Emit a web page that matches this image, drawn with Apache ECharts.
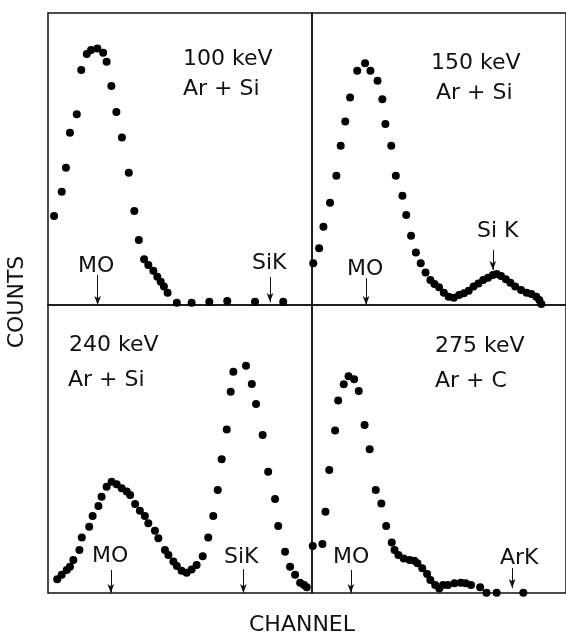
<!DOCTYPE html>
<html>
<head>
<meta charset="utf-8">
<script src="https://cdn.jsdelivr.net/npm/echarts@6/dist/echarts.min.js"></script>
<style>
html,body{margin:0;padding:0;background:#fff;}
#chart{width:566px;height:635px;}
</style>
</head>
<body>
<div id="chart"></div>
<script>
// ---- data: [channel (0-100 of panel width), counts (0-100 of panel height)] ----
const panel100 = [[2.3,30.5],[5.2,38.8],[6.8,47.0],[8.3,59.0],[10.9,65.3],[12.6,80.5],[14.7,86.0],[16.3,87.3],[18.7,87.8],[20.9,86.4],[22.2,83.3],[24.0,75.0],[25.9,66.1],[28.0,57.4],[30.6,45.3],[32.7,32.2],[34.4,22.3],[36.4,15.7],[38.0,13.7],[39.9,11.7],[41.4,9.7],[42.7,8.0],[43.9,6.3],[45.3,4.2],[48.8,0.8],[54.4,0.8],[61.1,1.1],[67.9,1.4],[78.4,1.1],[89.1,1.1]];
const panel150 = [[0.5,14.3],[2.8,19.4],[4.5,26.8],[7.1,35.0],[9.6,44.3],[11.3,54.5],[13.1,62.8],[15.0,71.1],[17.8,80.2],[20.9,82.8],[23.0,80.2],[25.8,76.8],[27.7,70.5],[28.9,62.0],[31.2,54.5],[33.0,44.3],[35.6,37.4],[37.1,30.8],[39.0,23.7],[40.9,18.0],[42.8,14.3],[44.7,11.1],[46.6,8.6],[48.2,7.2],[50.0,6.1],[51.9,4.2],[53.8,2.8],[55.8,2.5],[57.9,3.4],[59.8,4.0],[61.7,4.9],[63.6,6.3],[65.5,7.4],[67.4,8.6],[69.3,9.3],[71.2,10.3],[72.7,10.6],[74.4,9.9],[76.3,8.8],[78.1,7.6],[80.0,6.3],[82.3,5.1],[84.5,4.2],[86.4,3.8],[88.3,2.8],[89.5,1.7],[90.3,0.3]];
const panel240 = [[3.5,4.8],[5.2,6.3],[7.1,8.0],[8.3,9.1],[9.6,11.5],[11.9,14.9],[12.8,19.3],[15.6,23.0],[16.9,26.7],[19.1,30.2],[20.3,33.4],[22.2,36.9],[24.1,38.6],[26.0,37.8],[27.9,36.4],[29.8,35.2],[31.1,34.0],[33.0,30.9],[34.8,28.6],[36.7,26.7],[38.0,24.2],[40.5,21.6],[41.8,19.0],[44.3,14.9],[45.6,13.2],[47.5,10.9],[48.8,9.4],[50.6,7.7],[52.5,7.0],[54.4,8.2],[56.3,9.7],[58.6,12.8],[60.7,19.3],[62.6,26.7],[64.3,35.8],[65.8,46.4],[67.7,56.8],[69.2,69.9],[70.2,76.8],[75.0,78.9],[77.2,72.6],[78.8,65.6],[81.3,54.9],[83.4,42.1],[86.0,32.6],[87.2,23.3],[89.8,14.3],[91.7,9.1],[93.6,6.3],[95.5,3.6],[97.0,2.8],[98.0,2.0]];
const panel275 = [[0.3,16.3],[4.1,17.0],[5.3,28.2],[6.8,42.7],[9.1,56.4],[10.3,66.8],[12.5,72.5],[14.4,75.3],[16.6,74.2],[18.4,70.1],[20.7,58.3],[22.7,49.9],[25.1,35.8],[27.3,31.1],[29.2,23.3],[31.4,17.5],[32.5,14.9],[34.0,13.2],[36.1,12.0],[38.4,11.5],[40.3,11.2],[41.5,10.3],[43.4,8.6],[45.3,6.6],[46.6,4.5],[48.5,2.8],[50.1,1.6],[51.6,2.8],[53.5,2.8],[56.1,3.4],[58.6,3.6],[60.5,3.4],[62.6,2.8],[66.2,2.0],[68.7,0.1],[72.7,0.1],[83.2,0.1]];

// arrows: [channel, fromCounts, toCounts]
const arrows100 = [[18.8,10.3,0],[84.1,9.6,1.0]];
const arrows150 = [[21.3,9.2,0],[71.2,18.8,12.0]];
const arrows240 = [[23.8,8.0,0],[74.0,8.3,0]];
const arrows275 = [[15.3,8.0,0],[78.8,8.7,1.7]];

const energyLabels = ['100 keV','150 keV','240 keV','275 keV'];
const targetLabels = ['Ar + Si','Ar + Si','Ar + Si','Ar + C'];
const axisX = 'CHANNEL';
const axisY = 'COUNTS';

// ---- layout ----
const FONT = '22px "DejaVu Sans"';
const grids = [
  {left:48, top:13, width:264, height:292},
  {left:312, top:13, width:264, height:292},
  {left:48, top:305, width:264, height:288},
  {left:312, top:305, width:264, height:288}
];
const panels = [panel100, panel150, panel240, panel275];
const arrowSets = [arrows100, arrows150, arrows240, arrows275];

const chart = echarts.init(document.getElementById('chart'), null, {renderer:'canvas'});

function txt(text, x, y, extra) {
  return Object.assign({
    type:'text', x:x, y:y, silent:true,
    style:{text:text, font:FONT, fill:'#111', align:'left', verticalAlign:'middle'}
  }, extra || {});
}

const labelPos = [
  {e:[183,59], t:[183,89]},
  {e:[431,63], t:[436,93]},
  {e:[69,345], t:[68,380]},
  {e:[435,346], t:[435,381]}
];
const peakLabels = [
  ['MO',78,266],['SiK',252,263],
  ['MO',347,269],['Si K',477,231],
  ['MO',92,556],['SiK',224,557],
  ['MO',333,557],['ArK',500,558]
];

const graphic = [];
labelPos.forEach((p,i)=>{
  graphic.push(txt(energyLabels[i], p.e[0], p.e[1]));
  graphic.push(txt(targetLabels[i], p.t[0], p.t[1]));
});
peakLabels.forEach(l=>graphic.push(txt(l[0], l[1], l[2])));
graphic.push(txt(axisX, 302, 625, {style:{text:axisX, font:FONT, fill:'#111', align:'center', verticalAlign:'middle'}}));
graphic.push(txt(axisY, 17, 302, {rotation:Math.PI/2, style:{text:axisY, font:FONT, fill:'#111', align:'center', verticalAlign:'middle'}}));

const option = {
  animation:false,
  backgroundColor:'#fff',
  grid: grids.map(g=>Object.assign({show:true, borderColor:'#111', borderWidth:1.5, backgroundColor:'transparent'}, g)),
  xAxis: grids.map((g,i)=>({type:'value', gridIndex:i, min:0, max:100, show:false})),
  yAxis: grids.map((g,i)=>({type:'value', gridIndex:i, min:0, max:100, show:false})),
  series: panels.map((d,i)=>({
    type:'scatter', xAxisIndex:i, yAxisIndex:i, data:d, clip:false,
    symbol:'circle', symbolSize:8, itemStyle:{color:'#000', opacity:1},
    markLine:{
      silent:true, symbol:['none','arrow'], symbolSize:[5,9], precision:2,
      lineStyle:{color:'#111', width:1, type:'solid', opacity:1}, label:{show:false},
      data: arrowSets[i].map(a=>[{coord:[a[0],a[1]]},{coord:[a[0],a[2]]}])
    }
  })),
  graphic: graphic
};
chart.setOption(option);
</script>
</body>
</html>
